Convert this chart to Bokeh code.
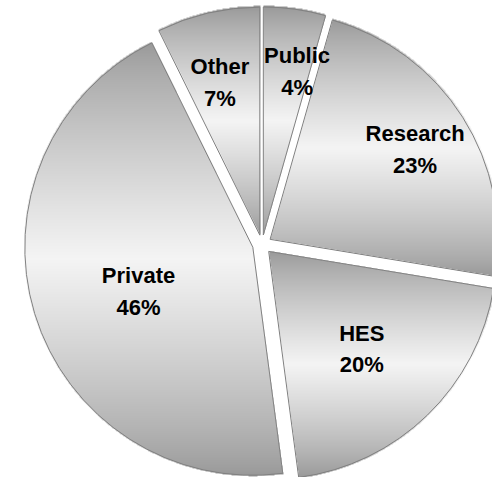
import numpy as np
from bokeh.plotting import figure
from bokeh.models import Range1d, ColumnDataSource
from bokeh.core.properties import value
from bokeh.embed import file_html
from bokeh.resources import INLINE

# ---- data ----
categories = ["Public", "Research", "HES", "Private", "Other"]
shares = [4.4, 23.2, 20.3, 44.8, 7.3]          # slice sizes as drawn
pct_labels = ["4%", "23%", "20%", "46%", "7%"]  # printed labels

# ---- layout / style ----
W, H = 492, 477
X0, Y0 = 0, 0
CX, CY = 261.5, -244.0
R = 228.0
EXPLODE = 9.6
label_frac = [0.767, 0.767, 0.568, 0.526, 0.725]
label_shift = [3.2, -1.6, -1.9, -0.75, -0.85]
DARK, LIGHT = 152, 244
FONT_PX = 22
LINE_GAP = 15.75
CAP_HALF = 0.358 * FONT_PX

vals = np.array(shares, dtype=float)
frac = vals / vals.sum()
ends = np.cumsum(frac) * 360.0
starts = ends - frac * 360.0
mids = (starts + ends) / 2.0

sx = CX + EXPLODE * np.sin(np.radians(mids))
sy = CY + EXPLODE * np.cos(np.radians(mids))

p = figure(width=W, height=H, x_range=Range1d(X0, X0 + W), y_range=Range1d(-(Y0 + H), -Y0),
           output_backend="svg", toolbar_location=None, min_border=0,
           x_axis_location=None, y_axis_location=None)
p.grid.visible = False
p.outline_line_color = None
p.background_fill_color = "white"
p.border_fill_color = "white"

# ---- gradient fill as a masked image ----
S = 2
nx, ny = W * S, H * S
xs = X0 + (np.arange(nx) + 0.5) / S
ys = -(Y0 + H) + (np.arange(ny) + 0.5) / S
GX, GY = np.meshgrid(xs, ys)
gray = np.zeros((ny, nx))
alpha = np.zeros((ny, nx), dtype=np.uint8)
for k in range(len(vals)):
    dx = GX - sx[k]
    dy = GY - sy[k]
    dist = np.hypot(dx, dy)
    ang = np.degrees(np.arctan2(dx, dy)) % 360.0
    inside = (dist <= R + 1) & (ang >= starts[k]) & (ang < ends[k] + 1e-9)
    a = np.radians(np.linspace(starts[k], ends[k], 400))
    ypts = np.concatenate([sy[k] + R * np.cos(a), [sy[k]]])
    ytop, ybot = ypts.max(), ypts.min()
    t = np.clip((ytop - GY) / (ytop - ybot), 0, 1)
    g = DARK + (LIGHT - DARK) * (1 - np.abs(2 * t - 1)) ** 0.8
    gray[inside] = g[inside]
    alpha[inside] = 255

img = np.zeros((ny, nx), dtype=np.uint32)
view = img.view(dtype=np.uint8).reshape((ny, nx, 4))
gv = np.round(gray).astype(np.uint8)
view[..., 0] = gv
view[..., 1] = gv
view[..., 2] = gv
view[..., 3] = alpha
p.image_rgba(image=[img], x=X0, y=-(Y0 + H), dw=W, dh=H)

# ---- wedge outlines ----
src = ColumnDataSource(dict(
    x=sx, y=sy, cat=categories,
    start=np.radians(90.0 - ends), end=np.radians(90.0 - starts),
))
p.wedge(x="x", y="y", radius=R, start_angle="start", end_angle="end", source=src,
        fill_color=None, line_color="#808080", line_width=1)

# ---- labels ----
la = np.radians(mids + np.array(label_shift))
lr = np.array(label_frac) * R
lx = sx + lr * np.sin(la)
ly = sy + lr * np.cos(la)
lab = ColumnDataSource(dict(
    x=np.concatenate([lx, lx]),
    y=np.concatenate([ly + LINE_GAP - CAP_HALF, ly - LINE_GAP - CAP_HALF]),
    text=categories + pct_labels,
))
p.text(x="x", y="y", text="text", source=lab, text_font=value("Liberation Sans"),
       text_font_style="bold", text_font_size=f"{FONT_PX}px", text_align="center",
       text_baseline="alphabetic", text_color="black")

open("out.html", "w").write(file_html(p, INLINE))
